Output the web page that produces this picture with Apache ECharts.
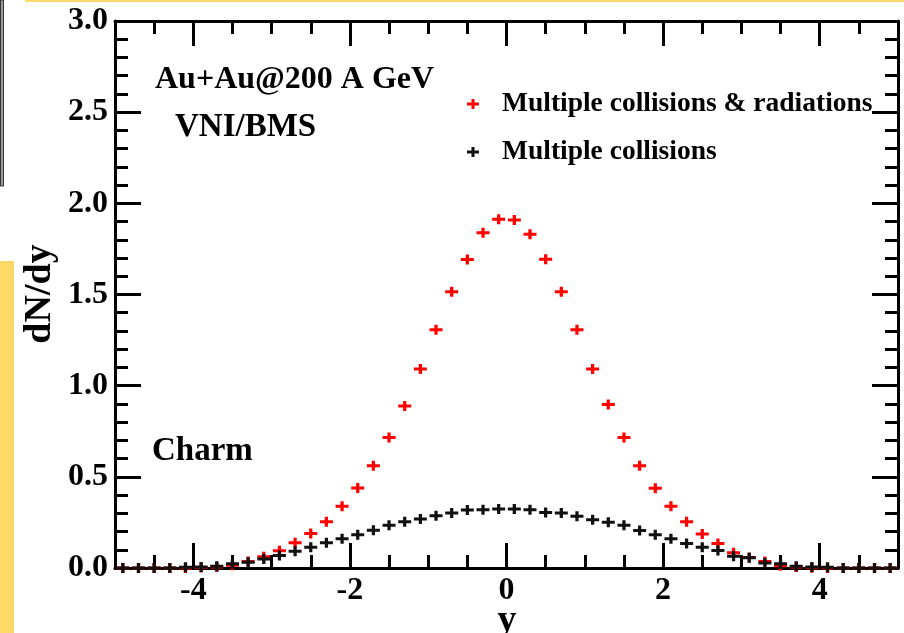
<!DOCTYPE html>
<html>
<head>
<meta charset="utf-8">
<script src="https://cdn.jsdelivr.net/npm/echarts@6/dist/echarts.min.js"></script>
<style>
html,body{margin:0;padding:0;background:#fff;}
#chart{width:904px;height:633px;}
</style>
</head>
<body>
<div id="chart"></div>
<script>
// rapidity bin centres
const rapidity = [-4.9,-4.7,-4.5,-4.3,-4.1,-3.9,-3.7,-3.5,-3.3,-3.1,
                  -2.9,-2.7,-2.5,-2.3,-2.1,-1.9,-1.7,-1.5,-1.3,-1.1,
                  -0.9,-0.7,-0.5,-0.3,-0.1,0.1,0.3,0.5,0.7,0.9,
                  1.1,1.3,1.5,1.7,1.9,2.1,2.3,2.5,2.7,2.9,
                  3.1,3.3,3.5,3.7,3.9,4.1,4.3,4.5,4.7,4.9];
// Multiple collisions & radiations (red)
const collRad = [0,0,0,0,0,0.003,0.005,0.015,0.035,0.062,
                 0.094,0.138,0.189,0.253,0.338,0.439,0.561,0.716,0.889,1.092,
                 1.307,1.515,1.692,1.838,1.913,1.909,1.831,1.694,1.515,1.307,
                 1.092,0.897,0.716,0.561,0.437,0.338,0.253,0.187,0.134,0.083,
                 0.058,0.035,0.012,0.005,0.002,0,0,0,0,0];
// Multiple collisions (black)
const coll = [0,0,0,0,0.004,0.006,0.01,0.023,0.032,0.05,
              0.068,0.092,0.114,0.138,0.160,0.183,0.207,0.234,0.253,0.269,
              0.287,0.302,0.318,0.320,0.324,0.324,0.320,0.305,0.302,0.284,
              0.265,0.251,0.234,0.205,0.183,0.160,0.134,0.114,0.096,0.065,
              0.056,0.028,0.023,0.01,0.005,0.004,0,0,0,0];
const xMajorTicks = [-4,-2,0,2,4];
const seriesNames = ['Multiple collisions & radiations','Multiple collisions'];
const annotations = ['Au+Au@200 A GeV','VNI/BMS','Charm'];
const axisTitles = ['y','dN/dy'];

const FONT = '"Liberation Serif","Times New Roman",serif';
const plus = 'path://M4.5,0 H7.5 V3.5 H12 V6.5 H7.5 V10 H4.5 V6.5 H0 V3.5 H4.5 Z';
const lineStyle = {color:'#000', width:3};
const labelStyle = {fontFamily:FONT, fontWeight:'bold', fontSize:32, color:'#000'};

const chart = echarts.init(document.getElementById('chart'), null, {renderer:'canvas'});
const grid = {left:115, top:21, width:783, height:547, containLabel:false, outerBoundsMode:'none'};

function xAx(pos, major, withLabels){
  const a = {type:'value', min:-5, max:5, position:pos, gridIndex:0,
    splitLine:{show:false},
    axisLine:{show:major, onZero:false, lineStyle:lineStyle},
    axisTick:{show:true, inside:true, length: major?25:13, lineStyle:lineStyle},
    axisLabel:{show:false}};
  if (major){
    a.axisTick.customValues = xMajorTicks;
    a.axisLabel = Object.assign({show:withLabels, customValues:xMajorTicks, margin:7,
      formatter: v => String(v)}, labelStyle);
  } else {
    a.interval = 0.5;
  }
  return a;
}
function yAx(pos, major, withLabels){
  return {type:'value', min:0, max:3, interval: major?0.5:0.1, position:pos, gridIndex:0,
    splitLine:{show:false},
    axisLine:{show:major, onZero:false, lineStyle:lineStyle},
    axisTick:{show:true, inside:true, length: major?26:13, lineStyle:lineStyle},
    axisLabel: Object.assign({show:withLabels, margin:7, formatter: v => v.toFixed(1)}, labelStyle)};
}

const xAxes = [xAx('bottom',true,true), xAx('bottom',false,false), xAx('top',true,false), xAx('top',false,false)];
const yAxes = [yAx('left',true,true), yAx('left',false,false), yAx('right',true,false), yAx('right',false,false)];

function pts(vals){ return rapidity.map((x,i)=>[x, vals[i]]); }

const option = {
  animation:false,
  backgroundColor:'#fff',
  grid: grid,
  xAxis: xAxes,
  yAxis: yAxes,
  legend: {
    orient:'vertical', left:462, top:85, itemWidth:48, itemHeight:10, itemGap:20,
    data: seriesNames,
    textStyle:{fontFamily:FONT, fontWeight:'bold', fontSize:27.5, lineHeight:28, color:'#000'}
  },
  series: [
    {name:seriesNames[0], type:'scatter', xAxisIndex:0, yAxisIndex:0, symbol:plus, symbolSize:[13,10],
     itemStyle:{color:'#ff0000', opacity:1}, data: pts(collRad), z:2},
    {name:seriesNames[1], type:'scatter', xAxisIndex:0, yAxisIndex:0, symbol:plus, symbolSize:[13,10],
     itemStyle:{color:'#111', opacity:1}, data: pts(coll), z:3}
  ],
  graphic: [
    {type:'rect', shape:{x:25,y:0,width:879,height:2}, style:{fill:'#ffd966'}, silent:true},
    {type:'rect', shape:{x:0,y:261,width:14,height:372}, style:{fill:'#ffd966'}, silent:true},
    {type:'rect', shape:{x:0.5,y:0,width:3,height:186}, style:{fill:'#999', stroke:'#333', lineWidth:1}, silent:true},
    {type:'text', x:155, y:80, style:{text:annotations[0], font:'bold 32px '+FONT, fill:'#000', align:'left', verticalAlign:'middle'}},
    {type:'text', x:175, y:127, style:{text:annotations[1], font:'bold 33px '+FONT, fill:'#000', align:'left', verticalAlign:'middle'}},
    {type:'text', x:152, y:451, style:{text:annotations[2], font:'bold 33px '+FONT, fill:'#000', align:'left', verticalAlign:'middle'}},
    {type:'text', x:507, y:621, style:{text:axisTitles[0], font:'bold 38px '+FONT, fill:'#000', align:'center', verticalAlign:'middle'}},
    {type:'text', x:40, y:294, rotation:Math.PI/2, style:{text:axisTitles[1], font:'bold 38px '+FONT, fill:'#000', align:'center', verticalAlign:'middle'}}
  ]
};
chart.setOption(option);
</script>
</body>
</html>
